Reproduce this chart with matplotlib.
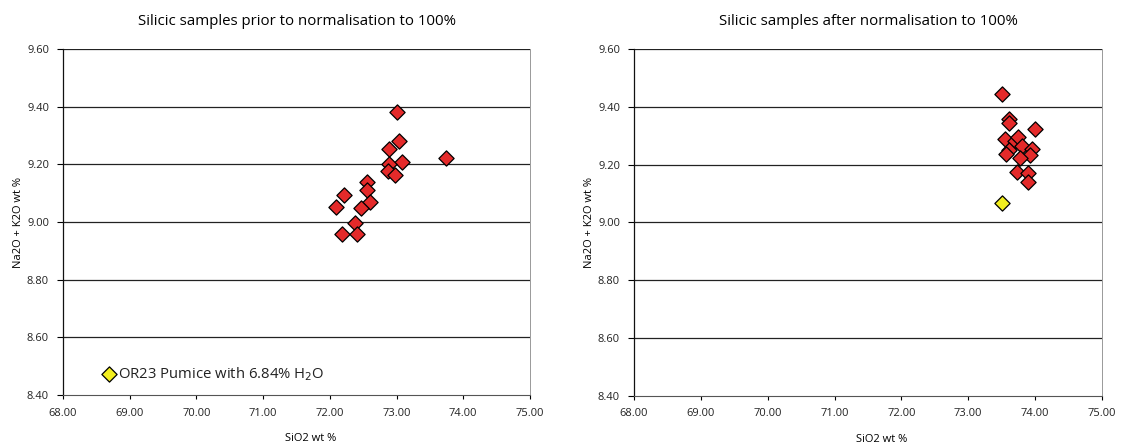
import matplotlib
matplotlib.use("Agg")
import matplotlib.pyplot as plt

# Left panel: before normalisation
pre_sio2 = [73.00, 73.03, 72.89, 73.74, 73.08, 72.89, 72.87, 72.97, 72.56, 72.55,
            72.21, 72.60, 72.09, 72.46, 72.38, 72.18, 72.40]
pre_alk = [9.380, 9.282, 9.252, 9.223, 9.209, 9.200, 9.178, 9.163, 9.140, 9.111,
           9.094, 9.070, 9.053, 9.047, 8.998, 8.957, 8.957]
pre_or23 = ([68.69], [8.473])

# Right panel: after normalisation
post_sio2 = [73.51, 73.61, 73.61, 74.00, 73.55, 73.70, 73.75, 73.80, 73.61, 73.57,
             73.96, 73.93, 73.77, 73.73, 73.90, 73.90]
post_alk = [9.444, 9.357, 9.343, 9.322, 9.288, 9.283, 9.295, 9.266, 9.251, 9.236,
            9.254, 9.233, 9.224, 9.176, 9.170, 9.139]
post_or23 = ([73.51], [9.066])

titles = ["Silicic samples prior to normalisation to 100%",
          "Silicic samples after normalisation to 100%"]
x_ticks = [68, 69, 70, 71, 72, 73, 74, 75]
y_ticks = [8.4, 8.6, 8.8, 9.0, 9.2, 9.4, 9.6]

plt.rcParams['font.family'] = ['Open Sans', 'DejaVu Sans']

W, H = 1121, 443
fig = plt.figure(figsize=(W / 100, H / 100), dpi=100)

red = '#E42A2A'
yellow = '#F2EE1E'

boxes = [(63, 49, 467, 346), (634, 49, 468, 347)]
data = [(pre_sio2, pre_alk, pre_or23), (post_sio2, post_alk, post_or23)]

for i, ((x0, y0, w, h), (xs, ys, oy), title) in enumerate(zip(boxes, data, titles)):
    ax = fig.add_axes([x0 / W, (H - y0 - h) / H, w / W, h / H])
    ax.set_xlim(68, 75)
    ax.set_ylim(8.4, 9.6)
    ax.set_xticks(x_ticks)
    ax.set_yticks(y_ticks)
    ax.set_xticklabels([f"{v:.2f}" for v in x_ticks], fontsize=8, color='#222222')
    ax.set_yticklabels([f"{v:.2f}" for v in y_ticks], fontsize=8, color='#222222')
    ax.tick_params(direction='out', length=4, width=0.8, pad=6)
    ax.tick_params(axis='x', length=3)
    for yv in y_ticks[1:]:
        ax.axhline(yv, color='#222222', lw=0.9, zorder=1)
    ax.spines['top'].set_visible(False)
    ax.spines['right'].set_color('#999999')
    ax.spines['right'].set_linewidth(0.7)
    ax.spines['bottom'].set_color('#555555')
    ax.spines['bottom'].set_linewidth(0.8)
    ax.spines['left'].set_color('#111111')
    ax.spines['left'].set_linewidth(0.9)
    ax.scatter(xs, ys, marker='D', s=60, c=red, edgecolors='black', linewidths=0.9, zorder=3)
    ax.scatter(oy[0], oy[1], marker='D', s=60, c=yellow, edgecolors='black', linewidths=0.9, zorder=4)
    ax.set_xlabel("SiO2 wt %", fontsize=8)
    ax.set_ylabel("Na2O + K2O wt %", fontsize=8)
    ax.xaxis.set_label_coords(0.53, -0.11)
    ax.yaxis.set_label_coords(-39 / w, 0.5)
    ax.set_title(title, fontsize=10.8, pad=17)
    if i == 0:
        ax.text(68.83, 8.473, "OR23 Pumice with 6.84% H$_2$O", fontsize=10.7,
                va='center', ha='left', color='#222222')

fig.savefig("out.png", dpi=100)
